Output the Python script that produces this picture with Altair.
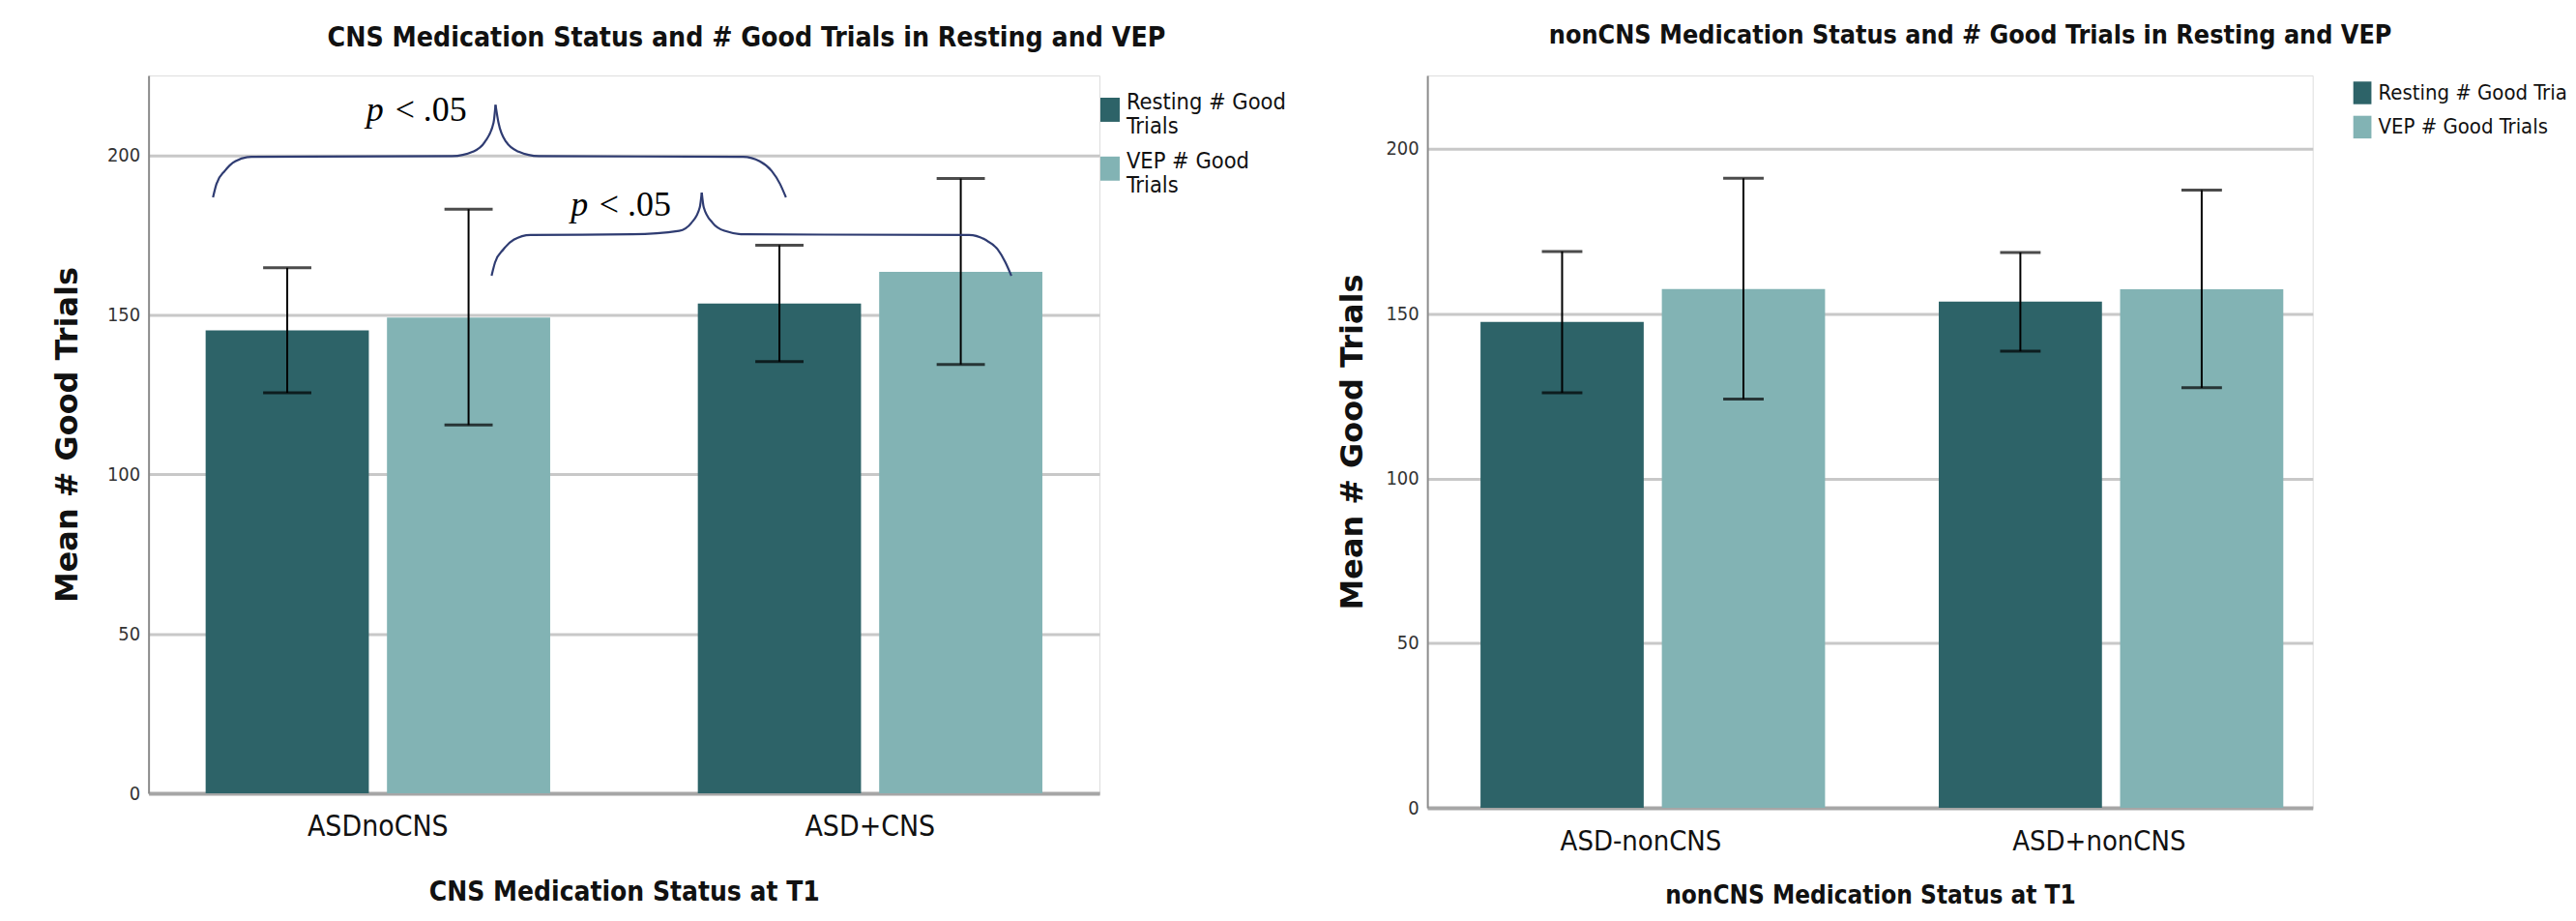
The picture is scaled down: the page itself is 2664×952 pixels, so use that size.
import altair as alt
import pandas as pd

# ---------------- data ----------------
series = ["Resting # Good Trials", "VEP # Good Trials"]

cns_groups = ["ASDnoCNS", "ASD+CNS"]
cns_rest_mean = [145.2, 153.6]
cns_rest_lo = [125.6, 135.4]
cns_rest_hi = [164.8, 171.9]
cns_vep_mean = [149.2, 163.5]
cns_vep_lo = [115.5, 134.5]
cns_vep_hi = [183.2, 192.8]

non_groups = ["ASD-nonCNS", "ASD+nonCNS"]
non_rest_mean = [147.5, 153.7]
non_rest_lo = [126.0, 138.6]
non_rest_hi = [168.9, 168.6]
non_vep_mean = [157.5, 157.4]
non_vep_lo = [124.1, 127.5]
non_vep_hi = [191.1, 187.5]

y_ticks = [0, 50, 100, 150, 200]

# significance braces (x in category units: 0 = first group centre, 1 = second)
brace_seg = ["b1L"] * 10 + ["b1R"] * 10 + ["b2L"] * 10 + ["b2R"] * 10
brace_x = [
    -0.335, -0.328, -0.311, -0.290, -0.257, 0.151, 0.193, 0.217, 0.235, 0.239,
    0.239, 0.245, 0.261, 0.286, 0.327, 0.742, 0.776, 0.800, 0.817, 0.829,
    0.231, 0.238, 0.255, 0.276, 0.310, 0.517, 0.612, 0.637, 0.654, 0.658,
    0.658, 0.662, 0.680, 0.704, 0.746, 1.201, 1.234, 1.259, 1.275, 1.287,
]
brace_y = [
    186.9, 191.1, 195.2, 198.2, 199.6, 199.8, 201.2, 204.2, 210.3, 215.9,
    215.9, 210.3, 204.2, 201.2, 199.8, 199.6, 198.2, 195.2, 191.1, 186.9,
    162.3, 166.5, 170.6, 173.6, 175.1, 175.3, 176.4, 178.9, 183.8, 188.4,
    188.4, 183.8, 178.9, 176.4, 175.3, 175.1, 173.6, 170.6, 166.5, 162.3,
]
sig_p_x = [-0.0235, 0.392]
sig_rest_x = [0.035, 0.450]
sig_y = [210.9, 181.2]
sig_p = ["p", "p"]
sig_rest = ["< .05", "< .05"]

# ---------------- style ----------------
DARK = "#2D6368"
LIGHT = "#82B3B4"
NARROW = "'DejaVu Sans Condensed', 'Liberation Sans Narrow', sans-serif"
PAD_IN = 0.30
PAD_OUT = 0.116
U_MIN = -(PAD_OUT + (1 - PAD_IN) / 2)
U_MAX = 1 + PAD_OUT + (1 - PAD_IN) / 2


def panel(groups, rm, rl, rh, vm, vl, vh, ymax, w, h, title, title_dx, title_off,
          title_size, xtitle, xtitle_size, label_size, label_pad, xtitle_pad, ytitle_pad,
          cap, legend, braces=False):
    df = pd.DataFrame({
        "group": groups + groups,
        "series": [series[0]] * 2 + [series[1]] * 2,
        "mean": rm + vm,
        "lo": rl + vl,
        "hi": rh + vh,
    })
    yscale = alt.Scale(domain=[0, ymax], nice=False, zero=True)
    yaxis = alt.Axis(values=y_ticks, title="Mean # Good Trials", titleFont="DejaVu Sans",
                     titleFontWeight="bold", titleFontSize=32, titleColor="#111",
                     titlePadding=ytitle_pad, labelFont=NARROW, labelFontSize=20,
                     labelColor="#333", labelPadding=9, ticks=False, domainColor="#8c8c8c",
                     domainWidth=2, gridColor="#c8c8c8", gridWidth=3)
    xenc = alt.X("group:N", sort=groups,
                 scale=alt.Scale(paddingInner=PAD_IN, paddingOuter=PAD_OUT),
                 axis=alt.Axis(title=xtitle, titleFont=NARROW, titleFontWeight="bold",
                               titleFontSize=xtitle_size, titleColor="#111",
                               titlePadding=xtitle_pad, labelFont=NARROW,
                               labelFontSize=label_size, labelColor="#111", labelLimit=600,
                               labelPadding=label_pad, labelAngle=0, ticks=False,
                               domainColor="#a6a6a6", domainWidth=4, grid=False))
    xoff = alt.XOffset("series:N", sort=series,
                       scale=alt.Scale(paddingInner=0.1, paddingOuter=0))
    base = alt.Chart(df)
    bars = base.mark_bar().encode(
        x=xenc, xOffset=xoff,
        y=alt.Y("mean:Q", scale=yscale, axis=yaxis),
        color=alt.Color("series:N", sort=series,
                        scale=alt.Scale(domain=series, range=[DARK, LIGHT]), legend=legend),
    )
    rules = base.mark_rule(color="black", strokeWidth=2).encode(
        x=xenc, xOffset=xoff,
        y=alt.Y("lo:Q", scale=yscale, title="Mean # Good Trials"), y2="hi:Q")
    cap_hi = base.mark_tick(color="black", thickness=3, size=cap, orient="horizontal").encode(
        x=xenc, xOffset=xoff, y=alt.Y("hi:Q", scale=yscale, title="Mean # Good Trials"))
    cap_lo = base.mark_tick(color="black", thickness=3, size=cap, orient="horizontal").encode(
        x=xenc, xOffset=xoff, y=alt.Y("lo:Q", scale=yscale, title="Mean # Good Trials"))
    ch = alt.layer(bars, rules, cap_hi, cap_lo)
    if braces:
        uscale = alt.Scale(domain=[U_MIN, U_MAX], nice=False, zero=False)
        bdf = pd.DataFrame({"u": brace_x, "y": brace_y, "seg": brace_seg})
        blines = alt.Chart(bdf).mark_line(color="#2F3C72", strokeWidth=2.2,
                                          interpolate="monotone").encode(
            x=alt.X("u:Q", scale=uscale, axis=None),
            y=alt.Y("y:Q", scale=yscale, title="Mean # Good Trials"),
            detail="seg:N")
        sdf = pd.DataFrame({"px": sig_p_x, "rx": sig_rest_x, "y": sig_y,
                            "p": sig_p, "r": sig_rest})
        ptext = alt.Chart(sdf).mark_text(font="Liberation Serif", fontStyle="italic",
                                         fontSize=36, align="left", baseline="alphabetic",
                                         color="black").encode(
            x=alt.X("px:Q", scale=uscale, axis=None),
            y=alt.Y("y:Q", scale=yscale, title="Mean # Good Trials"), text="p:N")
        rtext = alt.Chart(sdf).mark_text(font="Liberation Serif", fontSize=36, align="left",
                                         baseline="alphabetic", color="black").encode(
            x=alt.X("rx:Q", scale=uscale, axis=None),
            y=alt.Y("y:Q", scale=yscale, title="Mean # Good Trials"), text="r:N")
        ann = alt.layer(blines, ptext, rtext)
        ch = alt.layer(ch, ann).resolve_scale(x="independent")
    return ch.properties(
        width=w, height=h,
        title=alt.TitleParams(title, font=NARROW, fontWeight="bold", fontSize=title_size,
                              color="#111", anchor="middle", dx=title_dx, offset=title_off,
                              frame="group"),
    )


left_legend = alt.Legend(title=None, orient="none", legendX=984.5, legendY=15.5, padding=0,
                         symbolType="M-0.8,-0.4H0.8V1.6H-0.8Z", symbolSize=625,
                         symbolStrokeWidth=0, labelFont=NARROW, labelFontSize=23.5,
                         labelColor="#111", labelOffset=4.5, labelLimit=400, rowPadding=11,
                         labelExpr="split(replace(datum.label, ' Trials', '|Trials'), '|')")
right_legend = alt.Legend(title=None, orient="none", legendX=957.5, legendY=6, padding=0,
                          symbolType="M-0.8,-1H0.8V1H-0.8Z", symbolSize=552,
                          symbolStrokeWidth=0, labelFont=NARROW, labelFontSize=22,
                          labelColor="#111", labelOffset=4.5, labelLimit=400, rowPadding=11.5,
                          labelExpr="datum.label == 'Resting # Good Trials' ? 'Resting # Good Tria' : datum.label")

left = panel(cns_groups, cns_rest_mean, cns_rest_lo, cns_rest_hi, cns_vep_mean, cns_vep_lo,
             cns_vep_hi, 225.1, 986, 744,
             "CNS Medication Status and # Good Trials in Resting and VEP", 127, 23.5, 28.3,
             "CNS Medication Status at T1", 28, 30, 20, 38.5, 24, 50, left_legend,
             braces=True)
right = panel(non_groups, non_rest_mean, non_rest_lo, non_rest_hi, non_vep_mean, non_vep_lo,
              non_vep_hi, 222.3, 918, 759,
              "nonCNS Medication Status and # Good Trials in Resting and VEP", 104, 27, 26.8,
              "nonCNS Medication Status at T1", 26, 29, 20.5, 28, 17, 42, right_legend)

chart = alt.hconcat(left, right, spacing=52).resolve_scale(color="independent").properties(
    padding={"left": 45, "top": 14, "right": 0, "bottom": 0}
).configure_view(stroke=None).configure(background="white")

chart.save("out.html", embed_options={"renderer": "svg", "actions": False})
